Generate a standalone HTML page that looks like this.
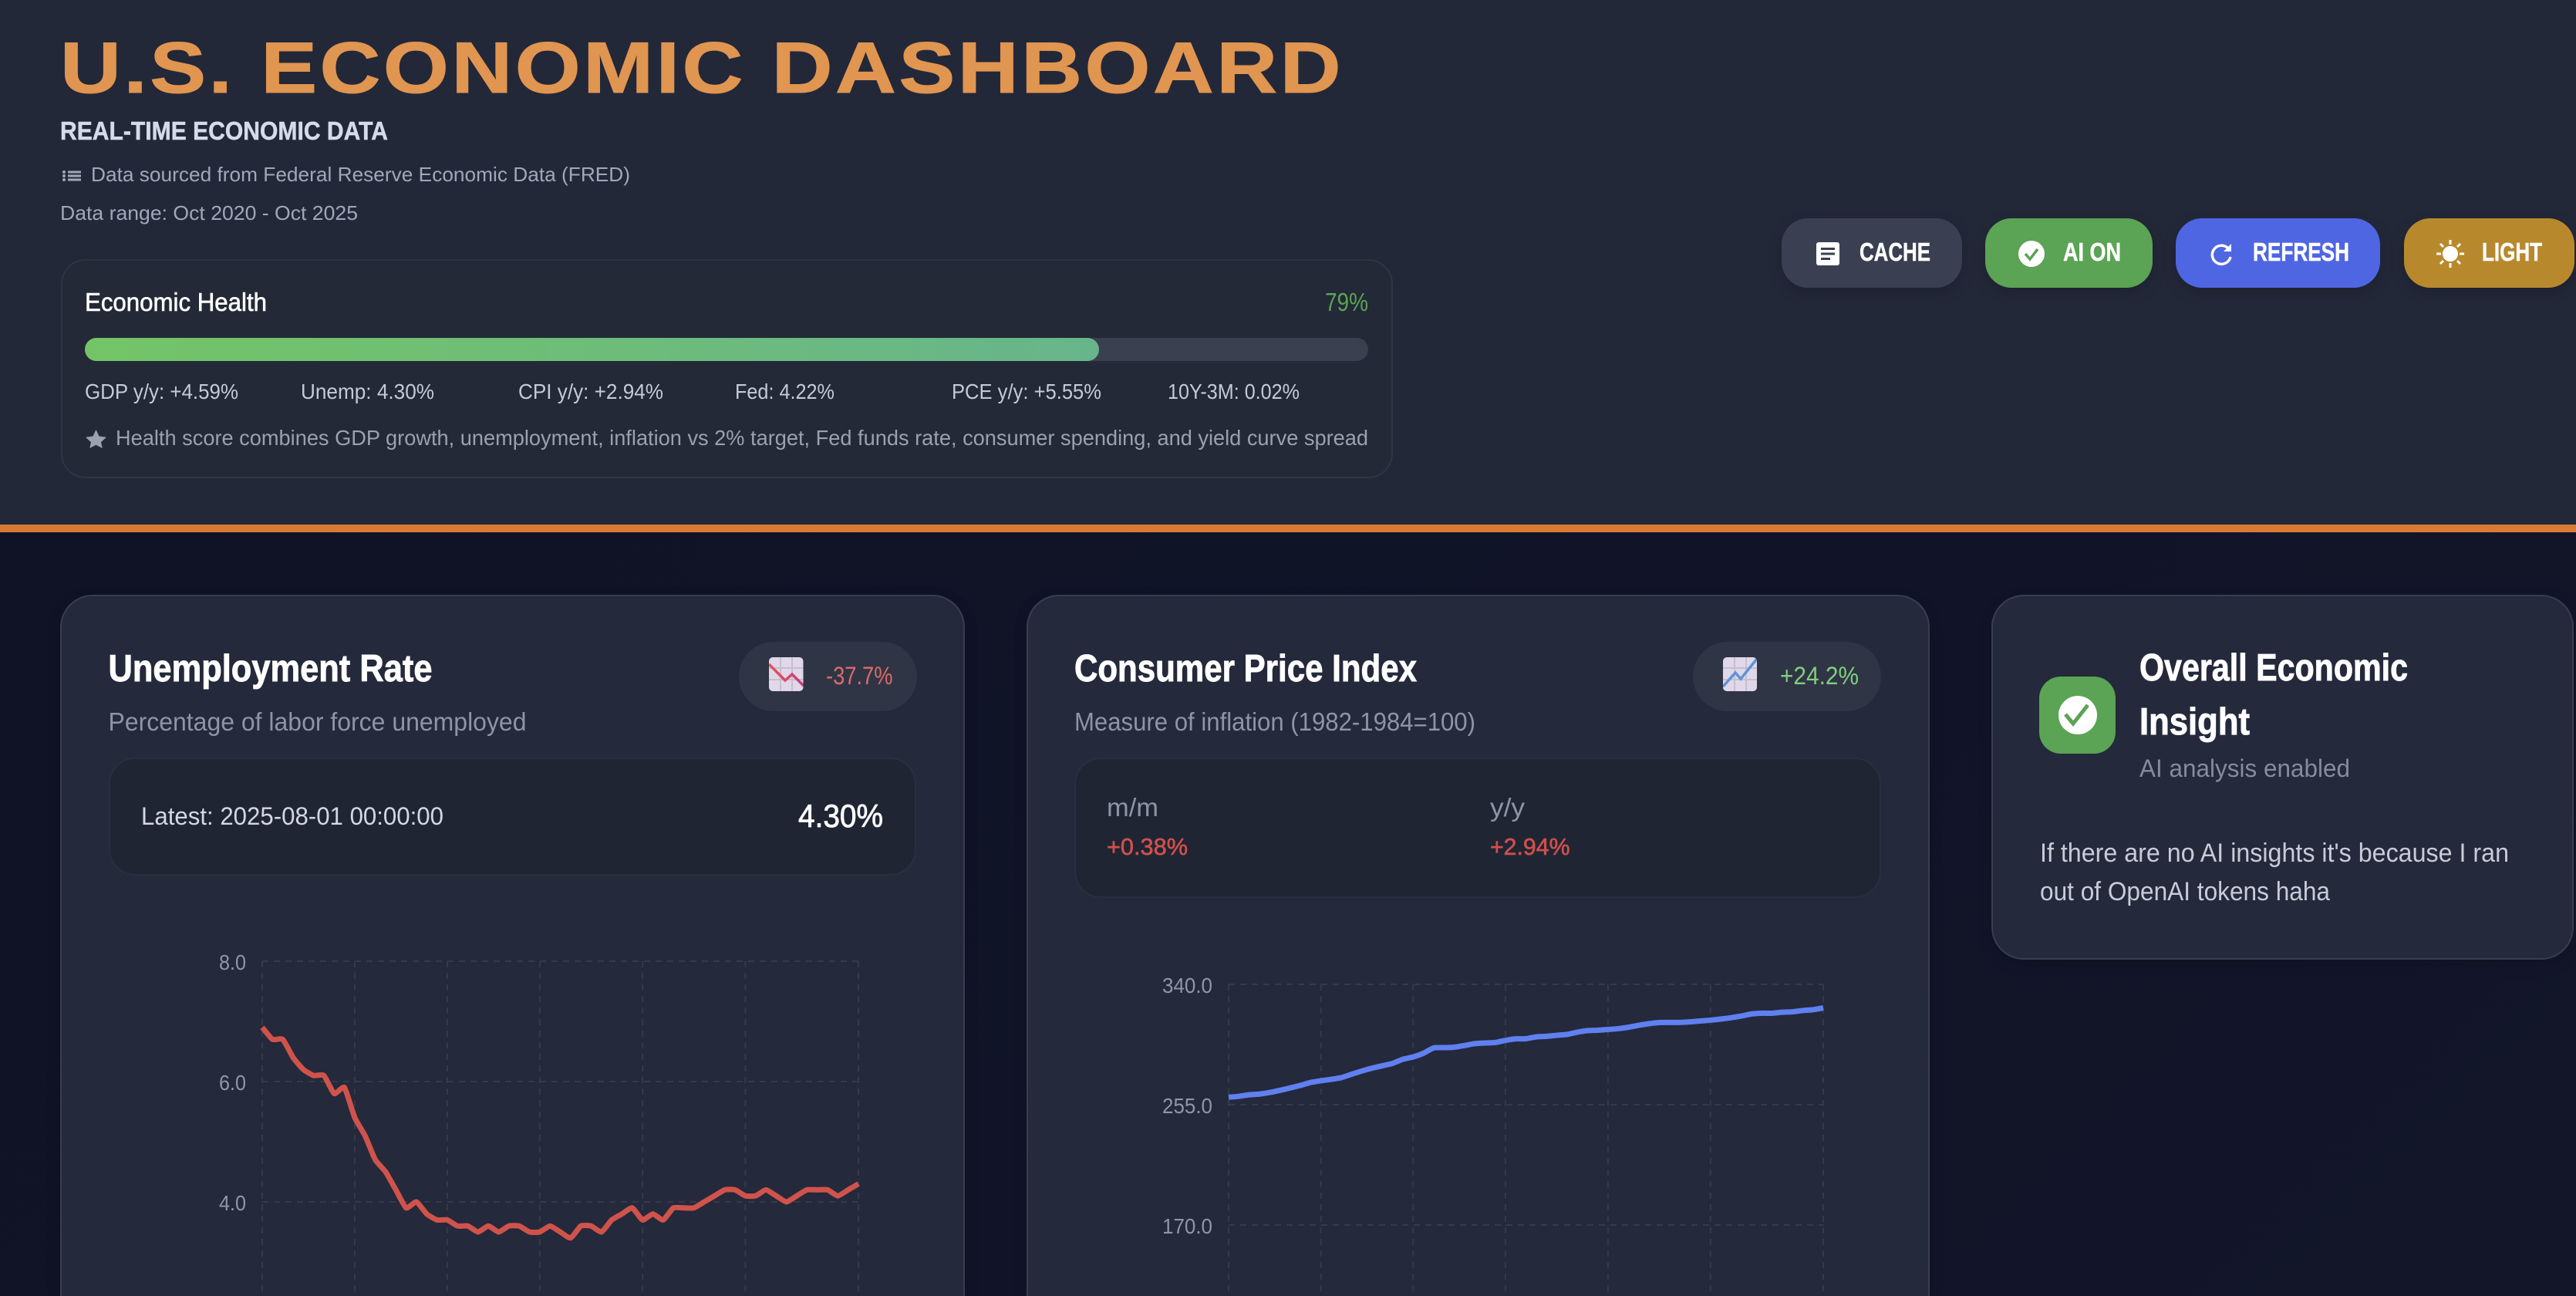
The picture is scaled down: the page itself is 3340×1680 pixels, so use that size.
<!DOCTYPE html>
<html lang="en">
<head>
<meta charset="utf-8">
<title>U.S. Economic Dashboard</title>
<style>
html,body{margin:0;padding:0;width:3340px;height:1680px;overflow:hidden;background:#10142a}
body{position:relative;font-family:"Liberation Sans Narrow","Liberation Sans",sans-serif}
.box{position:absolute;box-sizing:border-box}
#bg{left:0;top:690px;width:3340px;height:990px;background:linear-gradient(135deg,#0f1325 0%,#111428 60%,#131629 100%)}
#hdr{left:0;top:0;width:3340px;height:680px;background:#232839}
#rule{left:0;top:680px;width:3340px;height:10px;background:#d97a35}
.card{background:#24293b;border:2.5px solid #383d50;border-radius:42px;box-shadow:0 6px 18px rgba(0,0,0,.15)}
.open{border-bottom:none;border-bottom-left-radius:0;border-bottom-right-radius:0}
.metric{background:#202534;border:2px solid #2a2f3e;border-radius:34px}
.pill{background:#303545;border-radius:45px}
.btn{border-radius:34px;box-shadow:0 6px 18px rgba(0,0,0,.18);cursor:pointer}
svg#ov{position:absolute;left:0;top:0;width:3340px;height:1680px}
text{font-family:"Liberation Sans Narrow","Liberation Sans",sans-serif}
.b{font-weight:700}
.s{font-family:"Liberation Sans",sans-serif}
</style>
</head>
<body>
<div class="box" id="bg"></div>
<div class="box" id="hdr"></div>
<div class="box" id="rule"></div>

<div class="box" style="left:79px;top:336px;width:1727px;height:284px;background:#232936;border:2px solid #2f3542;border-radius:32px"></div>
<div class="box" style="left:110px;top:438px;width:1664px;height:30px;background:#3a4050;border-radius:15px"></div>
<div class="box" style="left:110px;top:438px;width:1315px;height:30px;background:linear-gradient(90deg,#74c467,#67b58b);border-radius:15px"></div>

<div class="box btn" style="left:2310px;top:283px;width:234px;height:90px;background:#3a4052"></div>
<div class="box btn" style="left:2574px;top:283px;width:217px;height:90px;background:#5ba355"></div>
<div class="box btn" style="left:2821px;top:283px;width:265px;height:90px;background:#4f66e3"></div>
<div class="box btn" style="left:3117px;top:283px;width:221px;height:90px;background:#b8892c"></div>

<div class="box card open" style="left:78px;top:771px;width:1173px;height:909px"></div>
<div class="box card open" style="left:1331px;top:771px;width:1171px;height:909px"></div>
<div class="box card" style="left:2582px;top:771px;width:755px;height:473px"></div>

<div class="box metric" style="left:141px;top:982px;width:1047px;height:153px"></div>
<div class="box metric" style="left:1393px;top:982px;width:1046px;height:182px"></div>
<div class="box pill" style="left:958px;top:832px;width:231px;height:90px"></div>
<div class="box pill" style="left:2195px;top:832px;width:244px;height:90px"></div>
<div class="box" style="left:2644px;top:877px;width:99px;height:100px;background:#5ba355;border-radius:28px"></div>

<svg id="ov" viewBox="0 0 3340 1680" xmlns="http://www.w3.org/2000/svg">
  <defs>
    <linearGradient id="emojiRed" x1="0" x2="1" y1="0" y2="0"><stop offset="0" stop-color="#e4565c"/><stop offset="1" stop-color="#c93a7a"/></linearGradient>
    <clipPath id="emo1"><rect x="997" y="852" width="44.5" height="44" rx="5"/></clipPath>
    <clipPath id="emo2"><rect x="2234" y="852" width="44" height="44" rx="5"/></clipPath>
  </defs>

  <text class="s b" x="78" y="120" font-size="94" letter-spacing="3" fill="#e09550" stroke="#e09550" stroke-width="1" textLength="1664" lengthAdjust="spacingAndGlyphs">U.S. ECONOMIC DASHBOARD</text>
  <text class="b" x="78" y="181" font-size="33.5" fill="#d5dbe8" stroke="#d5dbe8" stroke-width=".5" textLength="425" lengthAdjust="spacingAndGlyphs">REAL-TIME ECONOMIC DATA</text>
  <g fill="#a0a8b8">
    <circle cx="83" cy="223" r="2"/><circle cx="83" cy="228" r="2"/><circle cx="83" cy="233" r="2"/>
    <rect x="88" y="221.500" width="17" height="3"/><rect x="88" y="226.500" width="17" height="3"/><rect x="88" y="231.500" width="17" height="3"/>
  </g>
  <text x="118" y="235" font-size="26" fill="#a0a8b8" textLength="699" lengthAdjust="spacingAndGlyphs">Data sourced from Federal Reserve Economic Data (FRED)</text>
  <text x="78" y="285" font-size="26" fill="#a0a8b8" textLength="386" lengthAdjust="spacingAndGlyphs">Data range: Oct 2020 - Oct 2025</text>

  <text x="110" y="403" font-size="33" fill="#ffffff" stroke="#ffffff" stroke-width=".6" textLength="236" lengthAdjust="spacingAndGlyphs">Economic Health</text>
  <text x="1718" y="403" font-size="33" fill="#5ba355" textLength="56" lengthAdjust="spacingAndGlyphs">79%</text>
  <text x="110" y="517" font-size="27.500" fill="#c3cad8" textLength="199" lengthAdjust="spacingAndGlyphs">GDP y/y: +4.59%</text>
  <text x="390" y="517" font-size="27.500" fill="#c3cad8" textLength="173" lengthAdjust="spacingAndGlyphs">Unemp: 4.30%</text>
  <text x="672" y="517" font-size="27.500" fill="#c3cad8" textLength="188" lengthAdjust="spacingAndGlyphs">CPI y/y: +2.94%</text>
  <text x="953" y="517" font-size="27.500" fill="#c3cad8" textLength="129" lengthAdjust="spacingAndGlyphs">Fed: 4.22%</text>
  <text x="1234" y="517" font-size="27.500" fill="#c3cad8" textLength="194" lengthAdjust="spacingAndGlyphs">PCE y/y: +5.55%</text>
  <text x="1514" y="517" font-size="27.500" fill="#c3cad8" textLength="171" lengthAdjust="spacingAndGlyphs">10Y-3M: 0.02%</text>
  <polygon fill="#9aa1af" points="124.500,557 128.500,565.500 138,566.800 131,573.200 132.800,581 124.500,576.800 116.200,581 118,573.200 111,566.800 120.500,565.500"/>
  <text x="150" y="577" font-size="27.500" fill="#9aa1af" textLength="1624" lengthAdjust="spacingAndGlyphs">Health score combines GDP growth, unemployment, inflation vs 2% target, Fed funds rate, consumer spending, and yield curve spread</text>

  <g>
    <rect x="2355" y="314" width="30" height="30" rx="3" fill="#ffffff"/>
    <rect x="2361" y="321" width="18" height="3" fill="#3a4052"/><rect x="2361" y="327.500" width="18" height="3" fill="#3a4052"/><rect x="2361" y="334" width="12" height="3" fill="#3a4052"/>
  </g>
  <text class="b" x="2411" y="338" font-size="33" fill="#ffffff" stroke="#ffffff" stroke-width=".5" textLength="92" lengthAdjust="spacingAndGlyphs">CACHE</text>
  <g>
    <circle cx="2634" cy="329" r="17" fill="#ffffff"/>
    <path d="M2626 329l6 7 10-13" fill="none" stroke="#5ba355" stroke-width="3.500"/>
  </g>
  <text class="b" x="2675" y="338" font-size="33" fill="#ffffff" stroke="#ffffff" stroke-width=".5" textLength="75" lengthAdjust="spacingAndGlyphs">AI ON</text>
  <g>
    <path d="M2889 322a12 12 0 1 0 3 11" fill="none" stroke="#ffffff" stroke-width="3.500"/>
    <polygon points="2893,316 2893,326 2883,326" fill="#ffffff"/>
  </g>
  <text class="b" x="2921" y="338" font-size="33" fill="#ffffff" stroke="#ffffff" stroke-width=".5" textLength="125" lengthAdjust="spacingAndGlyphs">REFRESH</text>
  <g stroke="#ffffff" stroke-width="3">
    <circle cx="3177" cy="329" r="8.500" fill="#ffffff"/>
    <path d="M3177 311v6M3177 341v6M3159 329h6M3189 329h6M3164 316l4 4M3186 338l4 4M3164 342l4-4M3186 320l4-4" fill="none"/>
  </g>
  <text class="b" x="3218" y="338" font-size="33" fill="#ffffff" stroke="#ffffff" stroke-width=".5" textLength="78" lengthAdjust="spacingAndGlyphs">LIGHT</text>

  <text class="b" x="140.500" y="883" font-size="49.500" fill="#ffffff" stroke="#ffffff" stroke-width=".9" textLength="420" lengthAdjust="spacingAndGlyphs">Unemployment Rate</text>
  <text x="140.500" y="947" font-size="33" fill="#8e95a5" textLength="542" lengthAdjust="spacingAndGlyphs">Percentage of labor force unemployed</text>
  <text x="183" y="1069" font-size="32" fill="#d3d8e3" textLength="392" lengthAdjust="spacingAndGlyphs">Latest: 2025-08-01 00:00:00</text>
  <text x="1035" y="1072" font-size="42" fill="#ffffff" stroke="#ffffff" stroke-width=".8" textLength="110" lengthAdjust="spacingAndGlyphs">4.30%</text>
  <g clip-path="url(#emo1)">
    <rect x="997" y="852" width="44.500" height="44" fill="#e0d8ea"/>
    <path d="M1012 852v44M1027 852v44M997 866h45M997 881h45" stroke="#c6c0cb" stroke-width="2" fill="none"/>
    <path d="M997 861l21 21 9-8 15 15" stroke="url(#emojiRed)" stroke-width="3.500" fill="none"/>
  </g>
  <text x="1071" y="887" font-size="32" fill="#dc6a68" textLength="86.500" lengthAdjust="spacingAndGlyphs">-37.7%</text>

  <text class="b" x="1393" y="883" font-size="49.500" fill="#ffffff" stroke="#ffffff" stroke-width=".9" textLength="444" lengthAdjust="spacingAndGlyphs">Consumer Price Index</text>
  <text x="1393" y="947" font-size="33" fill="#8e95a5" textLength="520" lengthAdjust="spacingAndGlyphs">Measure of inflation (1982-1984=100)</text>
  <text x="1435" y="1058" font-size="33" fill="#8e95a5" textLength="67" lengthAdjust="spacingAndGlyphs">m/m</text>
  <text x="1932" y="1058" font-size="33" fill="#8e95a5" textLength="45" lengthAdjust="spacingAndGlyphs">y/y</text>
  <text x="1435" y="1108" font-size="30.500" fill="#d0504a" stroke="#d0504a" stroke-width=".6" textLength="105" lengthAdjust="spacingAndGlyphs">+0.38%</text>
  <text x="1932" y="1108" font-size="30.500" fill="#d0504a" stroke="#d0504a" stroke-width=".6" textLength="103.500" lengthAdjust="spacingAndGlyphs">+2.94%</text>
  <g clip-path="url(#emo2)">
    <rect x="2234" y="852" width="44" height="44" fill="#e0d8ea"/>
    <path d="M2249 852v44M2264 852v44M2234 866h44M2234 881h44" stroke="#c6c0cb" stroke-width="2" fill="none"/>
    <path d="M2234 890l16-18 7 8 21-26" stroke="#5f93da" stroke-width="3.500" fill="none"/>
  </g>
  <text x="2308" y="887" font-size="32" fill="#7fd080" textLength="102" lengthAdjust="spacingAndGlyphs">+24.2%</text>

  <g>
    <circle cx="2694" cy="927" r="25" fill="#ffffff"/>
    <path d="M2678 926l10 12 19-24" fill="none" stroke="#5ba355" stroke-width="5"/>
  </g>
  <text class="b" x="2774" y="882" font-size="49.500" fill="#ffffff" stroke="#ffffff" stroke-width=".9" textLength="348" lengthAdjust="spacingAndGlyphs">Overall Economic</text>
  <text class="b" x="2774" y="952" font-size="49.500" fill="#ffffff" stroke="#ffffff" stroke-width=".9" textLength="143" lengthAdjust="spacingAndGlyphs">Insight</text>
  <text x="2774" y="1007" font-size="32" fill="#868c9c" textLength="273" lengthAdjust="spacingAndGlyphs">AI analysis enabled</text>
  <text x="2645" y="1117" font-size="34" fill="#c8ccd8" textLength="608" lengthAdjust="spacingAndGlyphs">If there are no AI insights it's because I ran</text>
  <text x="2645" y="1167" font-size="34" fill="#c8ccd8" textLength="376" lengthAdjust="spacingAndGlyphs">out of OpenAI tokens haha</text>

  <g id="chart-unemp"></g>
  <g id="chart-cpi"></g>
</svg>

<script>
const months = ['2020-10','2020-11','2020-12','2021-01','2021-02','2021-03','2021-04','2021-05','2021-06','2021-07','2021-08','2021-09','2021-10','2021-11','2021-12','2022-01','2022-02','2022-03','2022-04','2022-05','2022-06','2022-07','2022-08','2022-09','2022-10','2022-11','2022-12','2023-01','2023-02','2023-03','2023-04','2023-05','2023-06','2023-07','2023-08','2023-09','2023-10','2023-11','2023-12','2024-01','2024-02','2024-03','2024-04','2024-05','2024-06','2024-07','2024-08','2024-09','2024-10','2024-11','2024-12','2025-01','2025-02','2025-03','2025-04','2025-05','2025-06','2025-07','2025-08'];
const xTickMonths = ['2020-10','2021-07','2022-04','2023-01','2023-11','2024-09','2025-08'];
const unempValues = [6.9,6.7,6.7,6.4,6.2,6.1,6.1,5.8,5.9,5.4,5.1,4.7,4.5,4.2,3.9,4.0,3.8,3.7,3.7,3.6,3.6,3.5,3.6,3.5,3.6,3.6,3.5,3.5,3.6,3.5,3.4,3.6,3.6,3.5,3.7,3.8,3.9,3.7,3.8,3.7,3.9,3.9,3.9,4.0,4.1,4.2,4.2,4.1,4.1,4.2,4.1,4.0,4.1,4.2,4.2,4.2,4.1,4.2,4.3];
const unempYTicks = [8,6,4,2,0];
const cpiValues = [260.3,260.9,262.0,262.5,263.6,265.1,266.8,268.6,270.7,271.9,272.9,274.1,276.5,278.8,280.8,282.5,284.2,287.1,288.7,291.3,295.1,295.3,295.6,296.8,298.1,298.6,298.9,300.4,301.5,301.6,302.9,303.3,304.0,304.6,306.2,307.3,307.6,308.1,308.7,309.7,311.1,312.2,313.0,313.1,313.1,313.5,314.1,314.7,315.5,316.4,317.6,319.1,319.6,319.6,320.3,320.6,321.5,322.1,323.4];
const cpiYTicks = [340,255,170,85,0];

const SVGNS = 'http://www.w3.org/2000/svg';
const FRAME_BOTTOM = 1680;

function make(tag, attrs) {
  const el = document.createElementNS(SVGNS, tag);
  for (const k in attrs) el.setAttribute(k, attrs[k]);
  return el;
}

function labelWidth(str) {
  let w = 0;
  for (const c of str) w += (c === '.') ? 5 : 15;
  return w;
}

function smoothPath(pts, t) {
  let d = 'M' + pts[0][0].toFixed(2) + ' ' + pts[0][1].toFixed(2);
  for (let i = 0; i < pts.length - 1; i++) {
    const p0 = pts[Math.max(i - 1, 0)], p1 = pts[i], p2 = pts[i + 1], p3 = pts[Math.min(i + 2, pts.length - 1)];
    const c1x = p1[0] + (p2[0] - p0[0]) * t, c1y = p1[1] + (p2[1] - p0[1]) * t;
    const c2x = p2[0] - (p3[0] - p1[0]) * t, c2y = p2[1] - (p3[1] - p1[1]) * t;
    d += 'C' + c1x.toFixed(2) + ' ' + c1y.toFixed(2) + ' ' + c2x.toFixed(2) + ' ' + c2y.toFixed(2) + ' ' + p2[0].toFixed(2) + ' ' + p2[1].toFixed(2);
  }
  return d;
}

function drawChart(root, cfg) {
  const xScale = i => cfg.x0 + (cfg.x1 - cfg.x0) * i / (months.length - 1);
  const yScale = v => cfg.yBottom + (cfg.yTop - cfg.yBottom) * (v - cfg.dMin) / (cfg.dMax - cfg.dMin);

  cfg.yTicks.filter(v => yScale(v) + 11 < FRAME_BOTTOM).forEach(v => {
    const gl = make('line', {x1: cfg.x0, x2: cfg.x1, y1: yScale(v), y2: yScale(v), stroke: '#343a4b', 'stroke-width': 2, 'stroke-dasharray': '8 7'});
    
    
    root.appendChild(gl);
    const str = v.toFixed(1);
    const tx = make('text', {x: cfg.labelX, y: yScale(v) + 11, 'text-anchor': 'end', 'font-size': 27.5, fill: '#8e97a8', textLength: labelWidth(str), lengthAdjust: 'spacingAndGlyphs'});
    
    
    tx.textContent = str;
    root.appendChild(tx);
  });

  xTickMonths.forEach(m => {
    const xp = xScale(months.indexOf(m));
    const gl = make('line', {x1: xp, x2: xp, y1: cfg.yTop, y2: Math.min(cfg.yBottom, FRAME_BOTTOM), stroke: '#343a4b', 'stroke-width': 2, 'stroke-dasharray': '8 7'});
    
    
    root.appendChild(gl);
  });

  const pts = cfg.values.map((v, i) => [xScale(i), yScale(v)]);
  const line = make('path', {d: smoothPath(pts, 0.08), fill: 'none', stroke: cfg.color, 'stroke-width': 7, 'stroke-linejoin': 'round', 'stroke-linecap': 'butt'});
  
  
  root.appendChild(line);
}

drawChart(document.getElementById('chart-unemp'), {x0: 340, x1: 1113, yTop: 1246, yBottom: 1870, dMin: 0, dMax: 8, labelX: 319, yTicks: unempYTicks, values: unempValues, color: '#cf534b', lineName: 'unemployment-line'});
drawChart(document.getElementById('chart-cpi'), {x0: 1593, x1: 2364, yTop: 1276, yBottom: 1900, dMin: 0, dMax: 340, labelX: 1572, yTicks: cpiYTicks, values: cpiValues, color: '#6080f0', lineName: 'cpi-line'});
</script>
</body>
</html>
